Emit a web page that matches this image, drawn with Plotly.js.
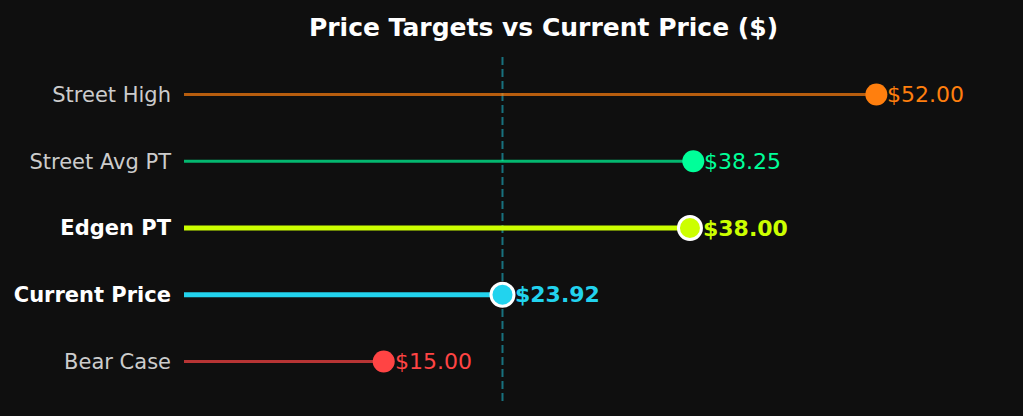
<!DOCTYPE html>
<html>
<head>
<meta charset="utf-8">
<script src="https://cdn.plot.ly/plotly-3.0.1.min.js"></script>
<style>html,body{margin:0;padding:0;background:#0f0f0f;}#chart{width:1023px;height:416px;}</style>
</head>
<body>
<div id="chart"></div>
<script>
const categories = ["Bear Case", "Current Price", "Edgen PT", "Street Avg PT", "Street High"];
const values = [15.00, 23.92, 38.00, 38.25, 52.00];
const labels = ["$15.00", "$23.92", "$38.00", "$38.25", "$52.00"];
const colors = ["#ff4444", "#22d3ee", "#ccff00", "#00ff99", "#ff7f0e"];
const highlighted = [false, true, true, false, false];
const currentPrice = 23.92;

const traces = [];
const annotations = [];
categories.forEach((c, i) => {
  const hl = highlighted[i];
  traces.push({
    type: 'scatter', mode: 'lines',
    x: [0, values[i]], y: [i, i],
    line: {color: colors[i], width: hl ? 5 : 3},
    opacity: hl ? 1 : 0.7,
    hoverinfo: 'skip', showlegend: false
  });
  traces.push({
    type: 'scatter', mode: 'markers',
    x: [values[i]], y: [i],
    marker: {color: colors[i], size: hl ? 23 : 22, line: {color: '#ffffff', width: hl ? 3 : 0}},
    cliponaxis: false,
    showlegend: false
  });
  annotations.push({
    x: values[i], y: i, xref: 'x', yref: 'y',
    text: hl ? '<b>' + labels[i] + '</b>' : labels[i],
    showarrow: false, xanchor: 'left', yanchor: 'middle',
    xshift: hl ? 11 : 9,
    font: {color: colors[i], size: 22, family: 'DejaVu Sans'}
  });
});

const tickText = categories.map((c, i) => highlighted[i]
  ? '<span style="color:#ffffff"><b>' + c + '</b></span>'
  : '<span style="color:#cccccc">' + c + '</span>');

const layout = {
  width: 1023, height: 416,
  paper_bgcolor: '#0f0f0f', plot_bgcolor: '#0f0f0f',
  margin: {l: 184, r: 120, t: 55, b: 15},
  font: {family: 'DejaVu Sans', color: '#cccccc'},
  title: {text: '<b>Price Targets vs Current Price ($)</b>', font: {size: 25, color: '#ffffff', family: 'DejaVu Sans'}, x: 0.5, xref: 'paper', y: 0.935, yref: 'container', yanchor: 'middle'},
  xaxis: {range: [0, 54], showgrid: false, zeroline: false, showticklabels: false, showline: false, ticks: ''},
  yaxis: {range: [-0.59, 4.59], tickvals: [0,1,2,3,4], ticktext: tickText, showgrid: false, zeroline: false, showline: false, ticks: '', ticklabelstandoff: 12, tickfont: {size: 21, family: 'DejaVu Sans'}},
  annotations: annotations,
  shapes: [{type: 'line', xref: 'x', yref: 'paper', x0: currentPrice, x1: currentPrice, y0: 0, y1: 1,
    line: {color: 'rgba(34,211,238,0.5)', width: 2, dash: '8px,4px'}, layer: 'below'}]
};

Plotly.newPlot('chart', traces, layout, {displayModeBar: false, staticPlot: true});
</script>
</body>
</html>
